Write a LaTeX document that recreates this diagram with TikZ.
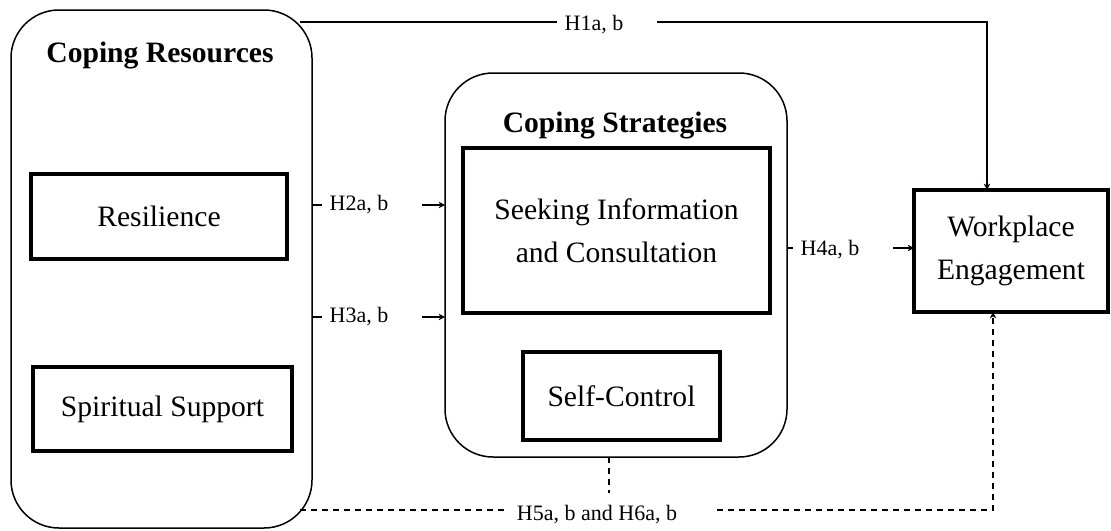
\documentclass[tikz,border=0pt]{standalone}
\usepackage{fontspec}
\setmainfont{Liberation Serif}
\usetikzlibrary{arrows.meta}
\begin{document}
\begin{tikzpicture}[x=0.5pt,y=-0.5pt,
  grp/.style={draw, line width=0.75pt, rounded corners=24pt, inner sep=0pt, outer sep=0pt},
  tbox/.style={draw, line width=2pt, inner sep=0pt, outer sep=0pt, align=center,
    font=\fontsize{14.8}{21.5}\selectfont},
  lab/.style={font=\fontsize{11}{13}\selectfont, inner sep=0pt, anchor=base},
  ttl/.style={font=\fontsize{14.8}{18}\selectfont\bfseries, inner sep=0pt, anchor=base},
  conn/.style={line width=0.65pt},
  arr/.style={conn, -{Stealth[length=3.2pt,width=3.2pt]}},
  dsh/.style={conn, dash pattern=on 3pt off 2.5pt}]
\useasboundingbox (0,0) rectangle (1111,530);

% groups
\node[grp, minimum width=150.5pt, minimum height=259pt] (cr) at (161.5,269) {};
\node[grp, minimum width=171pt, minimum height=192pt] (cs) at (616,265) {};
\node[ttl] (crt) at (160,62) {Coping Resources};
\node[ttl] (cst) at (615,132) {Coping Strategies};

% boxes
\node[tbox, minimum width=128pt, minimum height=42.5pt] (res) at (159,216.5) {Resilience};
\node[tbox, minimum width=129.5pt, minimum height=42pt] (sp) at (162.5,409) {Spiritual Support};
\node[tbox, minimum width=153.5pt, minimum height=82.5pt] (sic) at (616.5,230.5) {Seeking Information\\and Consultation};
\node[tbox, minimum width=98.5pt, minimum height=44pt] (sc) at (621.5,396) {Self-Control};
\node[tbox, minimum width=97pt, minimum height=61pt] (we) at (1011,251) {Workplace\\Engagement};

% labels
\node[lab] (h1) at (594,30) {H1a, b};
\node[lab] (h2) at (359,210) {H2a, b};
\node[lab] (h3) at (359,322) {H3a, b};
\node[lab] (h4) at (830,255) {H4a, b};
\node[lab] (h5) at (597,520) {H5a, b and H6a, b};

% H1
\coordinate (h1a) at (300,22);
\coordinate (h1b) at (557,22);
\coordinate (h1c) at (657,22);
\coordinate (h1d) at (987,22);
\draw[conn] (h1a) -- (h1b);
\draw[arr] (h1c) -- (h1d) -- (h1d |- we.north);

% H2, H3
\coordinate (h2a) at (322,205);
\coordinate (h2b) at (422,205);
\draw[conn] (cr.east |- h2a) -- (h2a);
\draw[arr] (h2b) -- (cs.west |- h2b);
\coordinate (h3a) at (322,317);
\coordinate (h3b) at (422,317);
\draw[conn] (cr.east |- h3a) -- (h3a);
\draw[arr] (h3b) -- (cs.west |- h3b);

% H4
\coordinate (h4a) at (793,248);
\coordinate (h4b) at (893,248);
\draw[conn] (cs.east |- h4a) -- (h4a);
\draw[arr] (h4b) -- (we.west |- h4b);

% H5/H6
\coordinate (h5a) at (300,510);
\coordinate (h5b) at (507,510);
\coordinate (h5c) at (717,510);
\coordinate (h5d) at (993,510);
\coordinate (h5m) at (609,493);
\draw[dsh] (h5a) -- (h5b);
\draw[dsh, -{Stealth[length=3.2pt,width=3.2pt]}] (h5c) -- (h5d) -- (h5d |- we.south);
\draw[dsh] (cs.south -| h5m) -- (h5m);
\end{tikzpicture}
\end{document}
